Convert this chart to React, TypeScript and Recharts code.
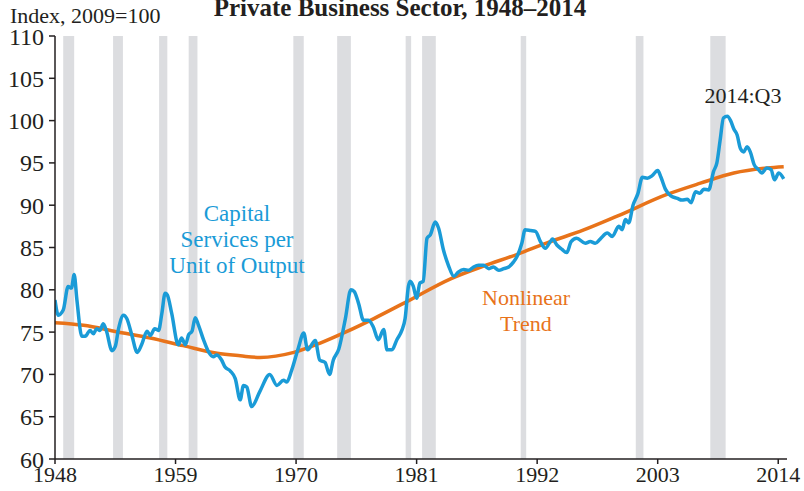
import {
  LineChart,
  Line,
  XAxis,
  YAxis,
  ReferenceArea,
} from "recharts";

// capital services per unit of output (index, 2009=100)
const capYears = [
  1948.0, 1948.3, 1948.75, 1949.2, 1949.5, 1949.75, 1950.0, 1950.45, 1950.75, 1951.2,
  1951.5, 1951.8, 1952.1, 1952.4, 1952.7, 1953.2, 1953.5, 1953.8, 1954.25, 1954.55,
  1955.0, 1955.5, 1955.9, 1956.4, 1956.7, 1957.1, 1957.45, 1957.75, 1958.05, 1958.25,
  1958.65, 1959.25, 1959.55, 1959.9, 1960.2, 1960.5, 1960.8, 1961.1, 1961.55, 1962.0,
  1962.45, 1962.75, 1963.2, 1963.5, 1964.0, 1964.45, 1964.9, 1965.2, 1965.5, 1965.95,
  1966.7, 1967.6, 1968.25, 1968.85, 1969.15, 1969.6, 1970.2, 1970.7, 1971.05, 1971.75,
  1972.15, 1972.65, 1973.05, 1973.4, 1973.9, 1974.5, 1975.0, 1975.3, 1975.7, 1976.15,
  1976.6, 1977.05, 1977.5, 1978.0, 1978.3, 1978.75, 1979.2, 1979.65, 1979.95, 1980.25,
  1980.4, 1980.7, 1981.0, 1981.3, 1981.6, 1981.95, 1982.25, 1982.7, 1983.0, 1983.45,
  1983.9, 1984.4, 1984.8, 1985.3, 1985.75, 1986.2, 1986.65, 1987.1, 1987.6, 1988.0,
  1988.5, 1988.95, 1989.4, 1989.85, 1990.15, 1990.6, 1990.9, 1991.4, 1991.85, 1992.3,
  1992.75, 1993.2, 1993.4, 1993.8, 1994.25, 1994.7, 1995.1, 1995.6, 1996.4, 1996.85,
  1997.3, 1997.75, 1998.4, 1998.85, 1999.45, 1999.75, 2000.05, 2000.35, 2000.75, 2001.2,
  2001.6, 2002.05, 2002.5, 2003.0, 2003.3, 2003.7, 2004.2, 2004.8, 2005.2, 2005.7,
  2006.05, 2006.45, 2006.85, 2007.2, 2007.65, 2008.1, 2008.4, 2008.7, 2009.0, 2009.35,
  2009.65, 2009.95, 2010.25, 2010.55, 2010.85, 2011.15, 2011.45, 2011.8, 2012.2, 2012.5,
  2012.95, 2013.35, 2013.65, 2014.05, 2014.5,
];
const capValues = [
  78.8, 77.0, 77.6, 80.4, 80.2, 81.8, 78.8, 74.5, 74.5, 75.2,
  74.8, 75.4, 75.2, 76.0, 75.1, 72.8, 73.3, 75.4, 77.0, 76.6,
  74.7, 72.6, 73.5, 75.1, 74.6, 75.4, 75.2, 77.2, 79.6, 79.4,
  77.2, 73.5, 74.3, 73.5, 74.7, 75.1, 76.7, 75.8, 74.1, 72.7,
  72.1, 72.3, 71.7, 70.9, 70.4, 69.5, 67.0, 68.7, 68.5, 66.2,
  68.0, 70.0, 68.7, 69.3, 69.1, 70.5, 73.1, 74.9, 72.9, 74.0,
  71.7, 71.4, 70.0, 71.7, 73.0, 76.6, 80.0, 79.8, 78.4, 76.4,
  76.4, 75.6, 74.1, 75.3, 72.9, 72.9, 74.1, 75.2, 76.6, 80.4,
  81.0, 80.4, 79.0, 80.8, 81.0, 86.1, 86.5, 88.0, 87.3, 84.7,
  82.9, 81.6, 82.1, 82.4, 82.3, 82.7, 82.9, 82.9, 82.5, 82.7,
  82.3, 82.5, 82.7, 83.3, 83.9, 85.5, 87.1, 87.0, 86.9, 85.7,
  84.9, 85.7, 86.0, 85.3, 84.8, 84.4, 85.7, 86.1, 85.5, 85.7,
  85.5, 86.0, 86.7, 86.3, 87.5, 87.1, 88.3, 87.9, 90.0, 91.4,
  93.3, 93.2, 93.5, 94.1, 93.3, 91.9, 91.1, 90.8, 90.6, 90.7,
  90.3, 91.6, 91.4, 91.9, 91.8, 94.0, 95.0, 97.7, 100.3, 100.5,
  100.0, 99.0, 98.3, 96.7, 96.3, 96.9, 96.3, 94.8, 94.2, 93.8,
  94.4, 94.2, 93.0, 93.8, 93.1,
];

// nonlinear trend
const trendYears = [
  1948.0, 1950.6, 1953.6, 1956.7, 1959.7, 1962.8, 1964.9, 1966.7, 1969.8, 1972.2,
  1974.6, 1977.1, 1980.1, 1984.1, 1987.1, 1990.2, 1992.9, 1996.25, 1999.3, 2003.9,
  2006.9, 2009.95, 2013.0, 2014.5,
];
const trendValues = [
  76.1, 75.8, 75.05, 74.3, 73.4, 72.5, 72.2, 72.0, 72.6, 73.7,
  75.05, 76.6, 78.6, 81.3, 82.8, 84.2, 85.55, 87.07, 88.7, 91.3,
  92.6, 93.8, 94.4, 94.55,
];

// recessions
const recStart = [1948.75, 1953.3, 1957.5, 1960.2, 1969.75, 1973.75, 1980.0, 1981.5, 1990.5, 2001.0, 2007.8];
const recEnd = [1949.75, 1954.2, 1958.25, 1961.0, 1970.7, 1975.0, 1980.5, 1982.75, 1991.0, 2001.7, 2009.2];

const xTicks = [1948, 1959, 1970, 1981, 1992, 2003, 2014];
const yTicks = [60, 65, 70, 75, 80, 85, 90, 95, 100, 105, 110];

const capData = capYears.map((t, i) => ({ t, v: capValues[i] }));
const trendData = trendYears.map((t, i) => ({ t, v: trendValues[i] }));

const FONT = '"Liberation Serif", "Times New Roman", serif';
const BLUE = "#1a9bd7";
const ORANGE = "#e8731a";
const INK = "#231f20";

const App: React.FC = () => {
  return (
    <div
      style={{
        position: "absolute",
        left: 0,
        top: 0,
        width: 804,
        height: 491,
        background: "#fff",
        overflow: "hidden",
      }}
    >
      <LineChart
        width={804}
        height={491}
        margin={{ top: 36, right: 17, bottom: 0, left: 0 }}
      >
        {recStart.map((s, i) => (
          <ReferenceArea
            key={`rec-${i}`}
            x1={s}
            x2={recEnd[i]}
            y1={60}
            y2={110}
            fill="#dcdde0"
            fillOpacity={1}
            stroke="none"
          />
        ))}
        <XAxis
          type="number"
          dataKey="t"
          domain={[1948, 2014.8]}
          ticks={xTicks}
          allowDataOverflow
          height={32}
          tickSize={5}
          tickMargin={2}
          axisLine={{ stroke: INK, strokeWidth: 1.5 }}
          tickLine={{ stroke: INK, strokeWidth: 1.5 }}
          tick={{ fill: INK, fontSize: 22, fontFamily: FONT }}
        />
        <YAxis
          type="number"
          domain={[60, 110]}
          ticks={yTicks}
          width={55}
          tickSize={6}
          tickMargin={5}
          axisLine={{ stroke: INK, strokeWidth: 1.5 }}
          tickLine={{ stroke: INK, strokeWidth: 1.5 }}
          tick={{ fill: INK, fontSize: 24, fontFamily: FONT }}
        />
        <Line
          data={trendData}
          dataKey="v"
          type="monotone"
          stroke={ORANGE}
          strokeWidth={3.5}
          dot={false}
          isAnimationActive={false}
        />
        <Line
          data={capData}
          dataKey="v"
          type="monotone"
          stroke={BLUE}
          strokeWidth={3.5}
          dot={false}
          isAnimationActive={false}
        />
      </LineChart>
      <svg
        width={804}
        height={491}
        style={{ position: "absolute", left: 0, top: 0, pointerEvents: "none" }}
        fontFamily={FONT}
      >
        <text x={400} y={16} textAnchor="middle" fontSize={25} fontWeight="bold" fill={INK}>
          Private Business Sector, 1948–2014
        </text>
        <text x={10} y={23} fontSize={22} fill={INK}>
          Index, 2009=100
        </text>
        <text textAnchor="middle" fontSize={23} fill={BLUE}>
          <tspan x={237} y={221}>Capital</tspan>
          <tspan x={237} y={247}>Services per</tspan>
          <tspan x={237} y={273}>Unit of Output</tspan>
        </text>
        <text textAnchor="middle" fontSize={22} fill={ORANGE}>
          <tspan x={526} y={305}>Nonlinear</tspan>
          <tspan x={526} y={331}>Trend</tspan>
        </text>
        <text x={743} y={103} textAnchor="middle" fontSize={22} fill={INK}>
          2014:Q3
        </text>
      </svg>
    </div>
  );
};

export default App;
